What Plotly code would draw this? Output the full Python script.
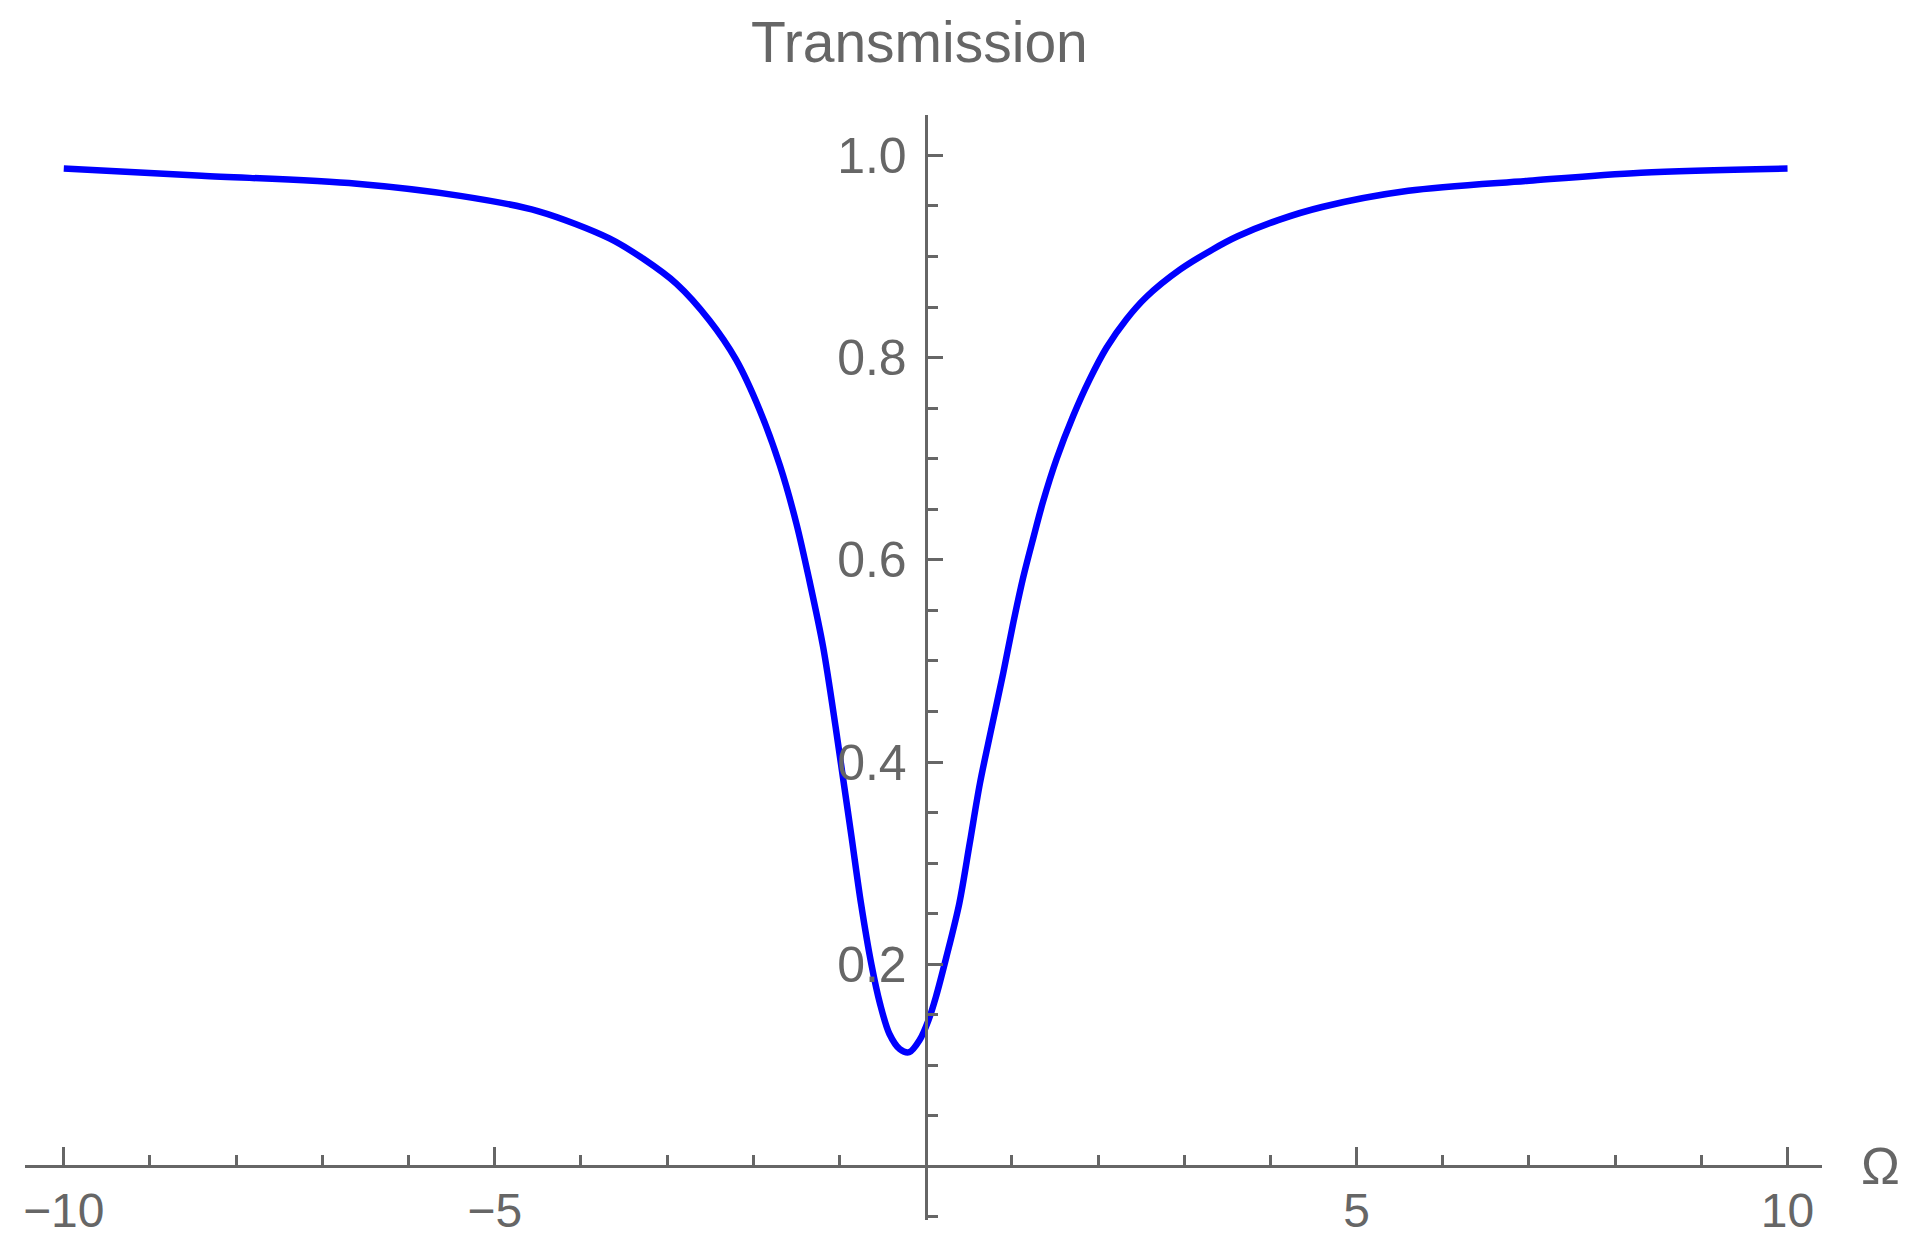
import plotly.graph_objects as go

#====================================================
# DATA
#====================================================

omega = [
    -10.0, -8.4, -6.6, -5.4, -4.5, -3.67, -3.28, -2.89, -2.51,
    -2.20, -1.93, -1.69, -1.50, -1.35, -1.19, -1.04, -0.96, -0.86, -0.75,
    -0.63, -0.53, -0.42, -0.30, -0.19, -0.07, 0.03, 0.12, 0.24, 0.39,
    0.51, 0.63, 0.76, 0.90, 1.01, 1.13, 1.25, 1.36, 1.52, 1.71,
    1.90, 2.10, 2.33, 2.56, 2.95, 3.33, 3.62, 4.09, 4.6, 5.6,
    7.0, 8.3, 10.0
]

transmission = [
    0.987, 0.980, 0.972, 0.960, 0.945, 0.918, 0.898, 0.873, 0.837,
    0.798, 0.749, 0.693, 0.636, 0.580, 0.514, 0.432, 0.385, 0.326, 0.260,
    0.200, 0.161, 0.131, 0.116, 0.113, 0.125, 0.144, 0.168, 0.207, 0.260,
    0.319, 0.379, 0.432, 0.488, 0.535, 0.582, 0.622, 0.657, 0.700, 0.742,
    0.778, 0.810, 0.838, 0.860, 0.887, 0.907, 0.920, 0.936, 0.949, 0.965,
    0.975, 0.983, 0.987
]

x_ticks = [-10, -5, 5, 10]
x_tick_text = ["\u221210", "\u22125", "5", "10"]
x_minor = [-9, -8, -7, -6, -4, -3, -2, -1, 1, 2, 3, 4, 6, 7, 8, 9]

y_ticks = [0.2, 0.4, 0.6, 0.8, 1.0]
y_tick_text = ["0.2", "0.4", "0.6", "0.8", "1.0"]
y_minor = [-0.05, 0.05, 0.1, 0.15, 0.25, 0.3, 0.35, 0.45, 0.5, 0.55,
           0.65, 0.7, 0.75, 0.85, 0.9, 0.95]

x_range = [-10.45, 10.4]
y_range = [-0.053, 1.04]

#====================================================
# FIGURE
#====================================================

GREY = "#666666"
FONT = "Liberation Sans"

fig = go.Figure()

fig.add_trace(go.Scatter(
    x=omega,
    y=transmission,
    mode="lines",
    line=dict(color="#0000ff", width=6.5, shape="spline", smoothing=0.9),
    showlegend=False
))

# axes cross at the origin, Mathematica style
x_pos = (0 - y_range[0]) / (y_range[1] - y_range[0])
y_pos = (0 - x_range[0]) / (x_range[1] - x_range[0])

# page body has an 8px margin, so the figure is a bit smaller than the window
fig.update_layout(
    width=1903,
    height=1228,
    margin=dict(l=17, r=89, t=107, b=16),
    plot_bgcolor="white",
    paper_bgcolor="white",
    font=dict(family=FONT, size=50, color=GREY),

    xaxis=dict(
        range=x_range,
        anchor="free",
        position=x_pos,
        automargin=False,
        showgrid=False,
        zeroline=False,
        showline=True,
        linecolor=GREY,
        linewidth=3,
        tickmode="array",
        tickvals=x_ticks,
        ticktext=x_tick_text,
        tickfont=dict(size=48),
        ticks="inside",
        ticklen=18,
        tickwidth=2.5,
        tickcolor=GREY,
        ticklabelstandoff=1,
        minor=dict(tickvals=x_minor, ticks="inside", ticklen=10,
                   tickwidth=2.5, tickcolor=GREY, showgrid=False),
    ),

    yaxis=dict(
        range=y_range,
        anchor="free",
        position=y_pos,
        automargin=False,
        showgrid=False,
        zeroline=False,
        showline=True,
        linecolor=GREY,
        linewidth=3,
        tickmode="array",
        tickvals=y_ticks,
        ticktext=y_tick_text,
        ticks="inside",
        ticklen=15,
        tickwidth=2.5,
        tickcolor=GREY,
        ticklabelstandoff=8,
        minor=dict(tickvals=y_minor, ticks="inside", ticklen=10,
                   tickwidth=2.5, tickcolor=GREY, showgrid=False),
    ),
)

# axis labels
fig.add_annotation(
    text="Transmission",
    xref="x", x=0,
    yref="paper", y=1,
    xanchor="center", yanchor="middle",
    xshift=-6, yshift=73,
    showarrow=False,
    font=dict(family=FONT, size=57, color=GREY)
)

fig.add_annotation(
    text="\u03a9",
    xref="paper", x=1,
    yref="y", y=0,
    xanchor="center", yanchor="middle",
    xshift=58,
    showarrow=False,
    font=dict(family=FONT, size=52, color=GREY)
)

fig.write_html("out.html")
